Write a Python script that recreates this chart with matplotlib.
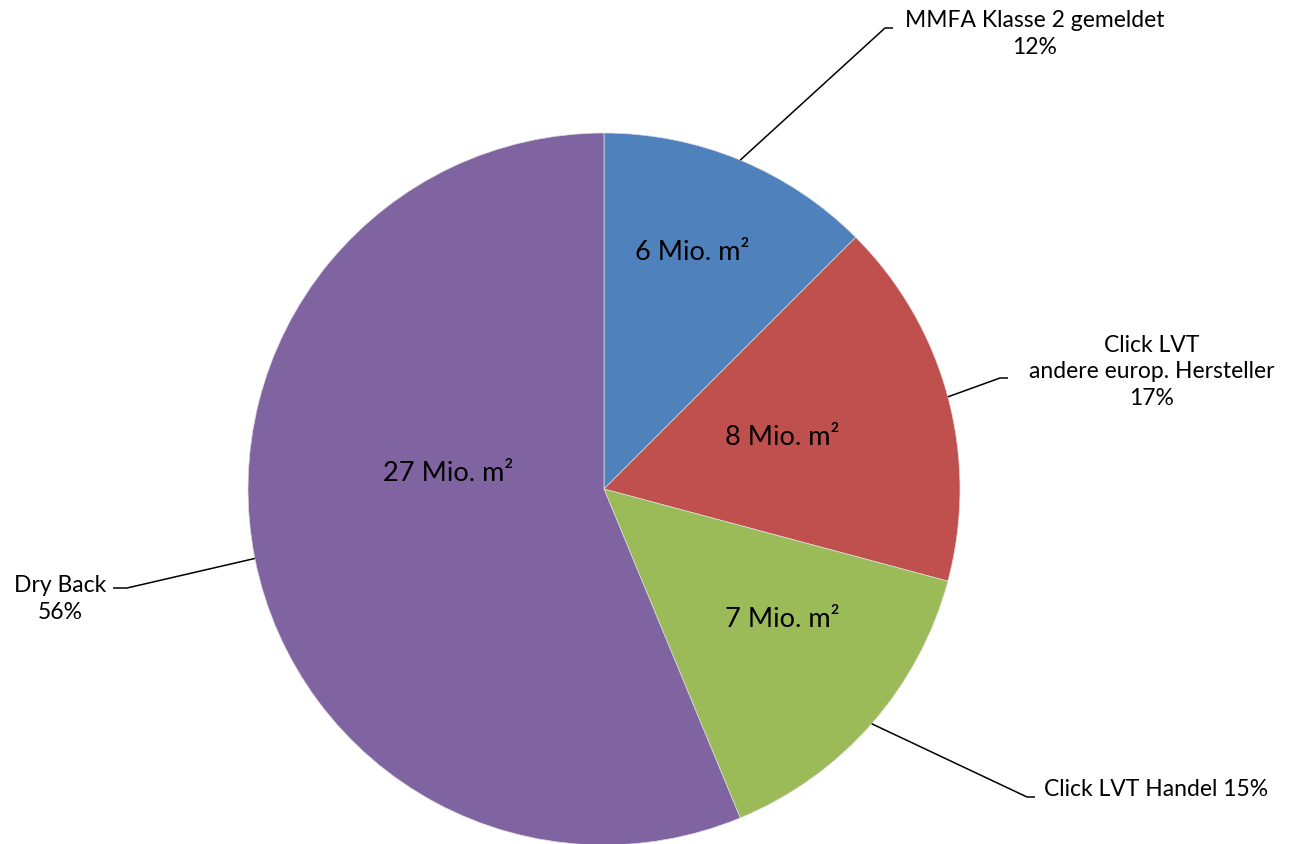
import numpy as np
import matplotlib
matplotlib.use("Agg")
import matplotlib.pyplot as plt

# data
segments = ["MMFA Klasse 2 gemeldet", "Click LVT\nandere europ. Hersteller", "Click LVT Handel", "Dry Back"]
values = [6, 8, 7, 27]          # Mio. m²
colors = ["#4F81BD", "#C0504D", "#9BBB59", "#8064A2"]

plt.rcParams['font.family'] = ['Lato', 'DejaVu Sans']

W, H = 1293, 844
cx, cy, R = 604, 489, 356
fig = plt.figure(figsize=(W / 100, H / 100), dpi=100)
ax = fig.add_axes([0, 0, 1, 1])

wedges, texts = ax.pie(values, colors=colors, startangle=90, counterclock=False,
                       radius=1, center=(0, 0), labels=None,
                       wedgeprops=dict(linewidth=0.5, edgecolor="#dddddd"))

# pie() resets the limits, so set them afterwards
ax.set_xlim(-cx / R, (W - cx) / R)
ax.set_ylim(-(H - cy) / R, cy / R)
ax.set_aspect("equal")
ax.axis("off")

total = sum(values)
pcts = [round(v / total * 100) for v in values]

# value labels inside slices: (radius fraction, angle shift from slice middle in deg)
inner_pos = [(0.71, 2), (0.52, 1), (0.62, 5), (0.44, -17)]
for w, v, (r, da) in zip(wedges, values, inner_pos):
    ang = np.deg2rad((w.theta1 + w.theta2) / 2 + da)
    ax.text(r * np.cos(ang), r * np.sin(ang), f"{v} Mio. m²", ha="center", va="center",
            fontsize=19.5, color="black")

# outer labels with leader lines: elbow point (px), end (px), text anchor (px), alignment
outer = [
    ((885, 28), (893, 28), (1035, 34), "center", f"{segments[0]}\n{pcts[0]}%"),
    ((1000, 378), (1008, 378), (1152, 372), "center", f"{segments[1]}\n{pcts[1]}%"),
    ((1027, 797), (1035, 797), (1044, 790), "left", f"{segments[2]} {pcts[2]}%"),
    ((127, 588), (113, 588), (60, 599), "center", f"{segments[3]}\n{pcts[3]}%"),
]

def to_data(p):
    return ((p[0] - cx) / R, (cy - p[1]) / R)

for w, (elbow, end, txt, ha, label) in zip(wedges, outer):
    ang = np.deg2rad((w.theta1 + w.theta2) / 2)
    sx, sy = np.cos(ang), np.sin(ang)
    ex, ey = to_data(elbow)
    fx, fy = to_data(end)
    ax.plot([sx, ex, fx], [sy, ey, fy], color="black", linewidth=1.1, solid_capstyle="butt")
    tx, ty = to_data(txt)
    ax.text(tx, ty, label, ha=ha, va="center", fontsize=16.5, color="black",
            multialignment="center", linespacing=1.33)

fig.savefig("out.png", dpi=100, facecolor="white")
